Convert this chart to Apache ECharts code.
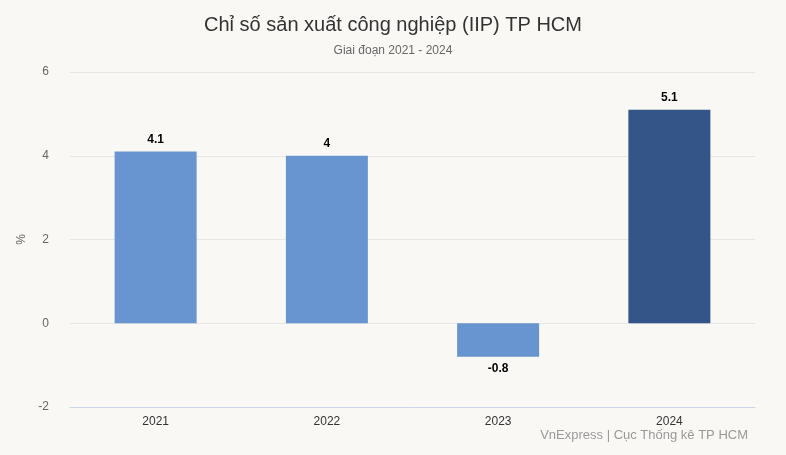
<!DOCTYPE html>
<html><head><meta charset="utf-8">
<script src="https://cdn.jsdelivr.net/npm/echarts@6/dist/echarts.min.js"></script>
<style>html,body{margin:0;padding:0;background:#f9f8f5;}#c{width:786px;height:455px;}</style>
</head><body><div id="c"></div>
<script>
const categories = ['2021', '2022', '2023', '2024'];
const values = [4.1, 4, -0.8, 5.1];
const highlightIndex = 3;
const yTicks = [-2, 0, 2, 4, 6];

const chart = echarts.init(document.getElementById('c'), null, {renderer: 'canvas'});
chart.setOption({
  backgroundColor: '#f9f8f5',
  animation: false,
  title: {
    text: 'Chỉ số sản xuất công nghiệp (IIP) TP HCM',
    subtext: 'Giai đoạn 2021 - 2024',
    left: 'center', top: 10, itemGap: 10,
    textStyle: {fontFamily: 'Liberation Sans, Arial, sans-serif', fontSize: 20, fontWeight: 'normal', color: '#333333'},
    subtextStyle: {fontFamily: 'Liberation Sans, Arial, sans-serif', fontSize: 12, color: '#666666'}
  },
  graphic: [{
    type: 'text', right: 38, top: 429,
    style: {text: 'VnExpress | Cục Thống kê TP HCM', font: '13px "Liberation Sans", Arial, sans-serif', fill: '#999999'}
  }],
  grid: {left: 70, right: 31, top: 72, bottom: 48},
  xAxis: {
    type: 'category', data: categories,
    axisLine: {onZero: false, lineStyle: {color: '#ccd6eb'}},
    axisTick: {alignWithLabel: true, length: 10, lineStyle: {color: '#ccd6eb'}},
    axisLabel: {color: '#333333', fontSize: 12, fontFamily: 'Liberation Sans, Arial, sans-serif', margin: 9}
  },
  yAxis: {
    type: 'value', min: -2, max: 6, interval: 2,
    name: '%', nameLocation: 'middle', nameGap: 36, nameRotate: 90,
    nameTextStyle: {color: '#666666', fontSize: 12, fontFamily: 'Liberation Sans, Arial, sans-serif'},
    axisLabel: {color: '#666666', fontSize: 12, fontFamily: 'Liberation Sans, Arial, sans-serif', margin: 21},
    axisLine: {show: false}, axisTick: {show: false},
    splitLine: {lineStyle: {color: '#e6e6e6'}}
  },
  series: [{
    type: 'bar', barWidth: 82,
    data: values.map((v, i) => ({
      value: v,
      itemStyle: {color: i === highlightIndex ? '#345587' : '#6895d0'},
      label: {position: v < 0 ? 'bottom' : 'top'}
    })),
    label: {show: true, distance: 6, color: '#000000', fontWeight: 'bold', fontSize: 12,
      fontFamily: 'Liberation Sans, Arial, sans-serif',
      textBorderColor: '#ffffff', textBorderWidth: 1}
  }]
});
</script></body></html>
